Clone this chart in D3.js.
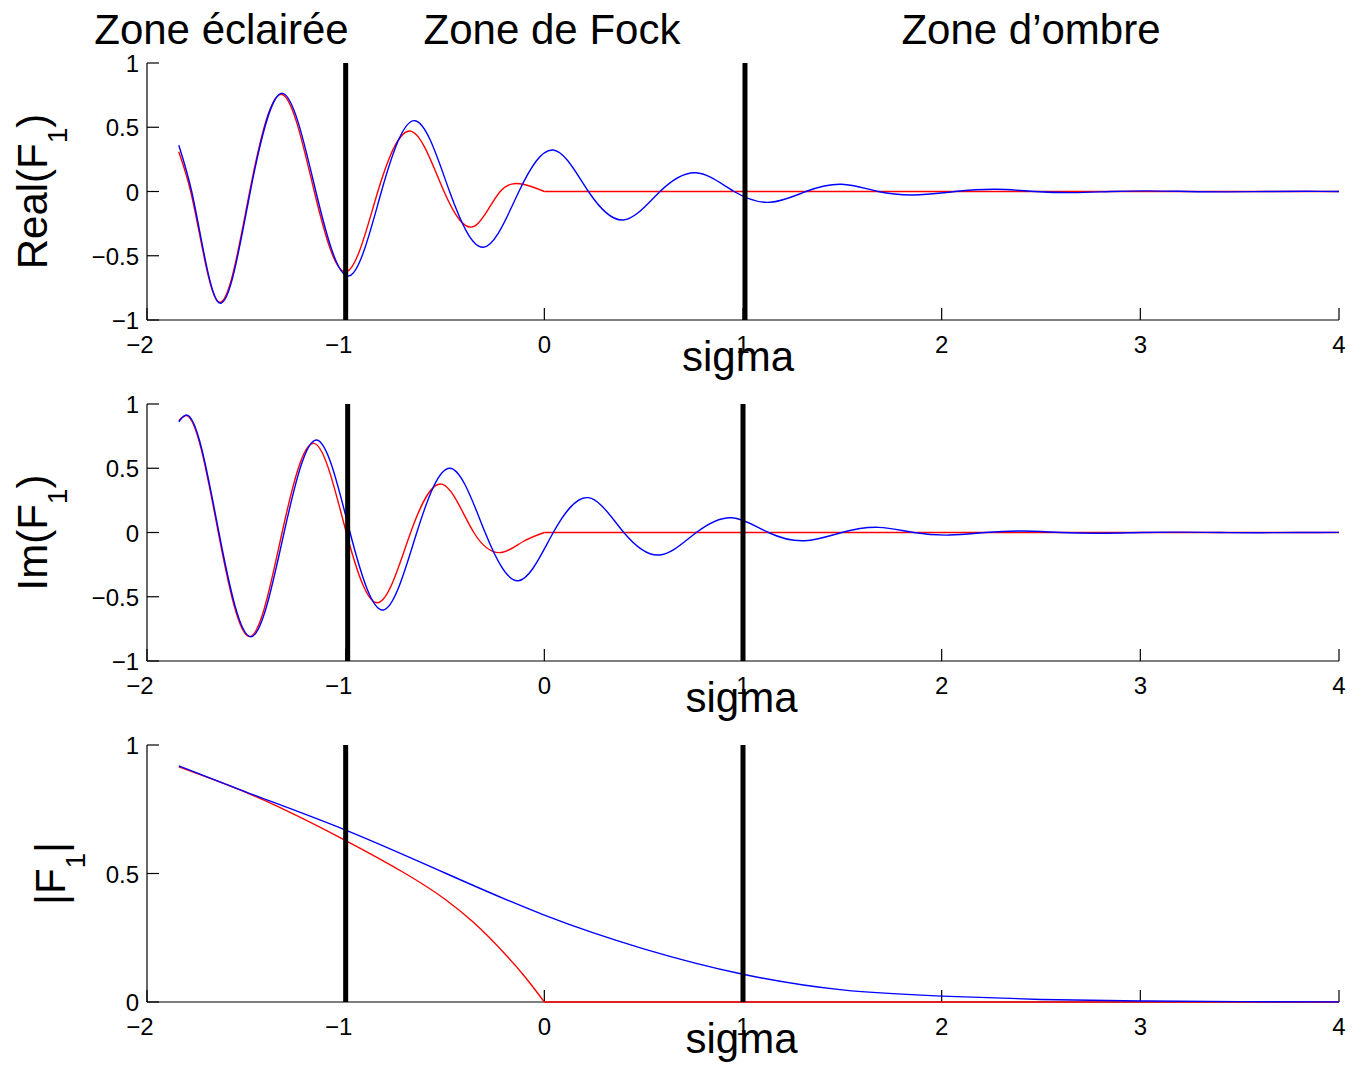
<!DOCTYPE html>
<html><head><meta charset="utf-8">
<script src="https://cdn.jsdelivr.net/npm/d3@7"></script>
<style>
body{margin:0;background:#fff}
svg{display:block}
text{font-family:"Liberation Sans",Arial,Helvetica,sans-serif;fill:#000}
</style>
</head><body>
<svg id="c" width="1363" height="1066"></svg>
<script>
// ---------- data ----------
const xTicks = [-2, -1, 0, 1, 2, 3, 4];
const yTicksSigned = [-1, -0.5, 0, 0.5, 1];
const yTicksAbs = [0, 0.5, 1];
const zoneTitles = ["Zone éclairée", "Zone de Fock", "Zone d’ombre"];
const xLabel = "sigma";

// zone boundaries (sigma) as drawn in each panel
const boundariesReal = [-1, 1.01];
const boundariesIm = [-0.99, 1.0];
const boundariesAbs = [-1, 1];

// Real(F1)
const realBlue = [[-1.84,0.36],[-1.775,0],[-1.644,-0.857],[-1.48,0],[-1.317,0.764],[-1.15,0],[-0.982,-0.657],[-0.82,0],[-0.651,0.551],[-0.477,0],[-0.307,-0.434],[-0.128,0],[0.045,0.323],[0.222,0],[0.397,-0.222],[0.582,0],[0.763,0.146],[0.955,0],[1.136,-0.084],[1.317,0],[1.497,0.056],[1.68,0],[1.857,-0.027],[2.067,0],[2.277,0.017],[2.47,0],[2.66,-0.009],[2.85,0],[3.04,0.005],[3.24,0],[3.44,-0.003],[3.64,0],[3.84,0.0015],[4.0,0]];
const realRed = [[-1.84,0.31],[-1.78,0],[-1.647,-0.85],[-1.483,0],[-1.32,0.755],[-1.158,0],[-0.995,-0.624],[-0.838,0],[-0.668,0.468],[-0.505,0],[-0.349,-0.268],[-0.222,0],[-0.107,0.056],[0,0]];
const realRedFlat = [[0,0],[4,0]];

// Im(F1)
const imBlue = [[-1.84,0.862],[-1.80,0.914],[-1.638,0],[-1.477,-0.811],[-1.31,0],[-1.146,0.72],[-0.978,0],[-0.81,-0.603],[-0.642,0],[-0.475,0.5],[-0.298,0],[-0.131,-0.375],[0.045,0],[0.221,0.271],[0.4,0],[0.579,-0.175],[0.765,0],[0.943,0.115],[1.128,0],[1.312,-0.064],[1.497,0],[1.681,0.04],[1.86,0],[2.04,-0.02],[2.22,0],[2.40,0.012],[2.6,0],[2.8,-0.006],[3.0,0],[3.2,0.003],[3.4,0],[3.6,-0.0015],[3.8,0],[4.0,0.0007]];
const imRed = [[-1.84,0.87],[-1.80,0.91],[-1.641,0],[-1.482,-0.81],[-1.32,0],[-1.159,0.694],[-0.997,0],[-0.835,-0.546],[-0.673,0],[-0.512,0.375],[-0.355,0],[-0.21,-0.154],[-0.106,-0.07],[0,0]];
const imRedFlat = [[0,0],[4,0]];

// |F1|
const absBlue = [[-1.84,0.919],[-1.5,0.817],[-1.0,0.669],[-0.5,0.502],[0,0.338],[0.5,0.207],[1.0,0.108],[1.5,0.047],[2.0,0.023],[2.5,0.01],[3.0,0.004],[3.5,0.0015],[4.0,0.0005]];
const absRed = [[-1.84,0.915],[-1.5,0.815],[-1.0,0.628],[-0.7,0.50],[-0.5,0.40],[-0.357,0.31],[-0.19,0.18],[-0.1,0.10],[0,0]];
const absRedFlat = [[0,0],[4,0]];

// ---------- natural cubic spline as a function of x (d3 curve) ----------
function NaturalX(context){ this._context = context; }
NaturalX.prototype = {
  areaStart(){ this._line = 0; },
  areaEnd(){ this._line = NaN; },
  lineStart(){ this._x = []; this._y = []; },
  point(x, y){ this._x.push(+x); this._y.push(+y); },
  lineEnd(){
    const X = this._x, Y = this._y, n = X.length, ctx = this._context;
    if (!n) return;
    ctx.moveTo(X[0], Y[0]);
    if (n === 1) return;
    if (n === 2) { ctx.lineTo(X[1], Y[1]); return; }
    const h = [];
    for (let i = 0; i < n - 1; i++) h[i] = X[i + 1] - X[i];
    const m = n - 2, a = [], b = [], c = [], d = [];
    for (let k = 0; k < m; k++) {
      const i = k + 1;
      a[k] = h[i - 1]; b[k] = 2 * (h[i - 1] + h[i]); c[k] = h[i];
      d[k] = 6 * ((Y[i + 1] - Y[i]) / h[i] - (Y[i] - Y[i - 1]) / h[i - 1]);
    }
    for (let k = 1; k < m; k++) {
      const w = a[k] / b[k - 1];
      b[k] -= w * c[k - 1]; d[k] -= w * d[k - 1];
    }
    const sol = new Array(m);
    sol[m - 1] = d[m - 1] / b[m - 1];
    for (let k = m - 2; k >= 0; k--) sol[k] = (d[k] - c[k] * sol[k + 1]) / b[k];
    const M = [0].concat(sol, [0]);
    for (let i = 0; i < n - 1; i++) {
      const s = (Y[i + 1] - Y[i]) / h[i];
      const d0 = s - h[i] * (2 * M[i] + M[i + 1]) / 6;
      const d1 = s + h[i] * (M[i] + 2 * M[i + 1]) / 6;
      ctx.bezierCurveTo(X[i] + h[i] / 3, Y[i] + d0 * h[i] / 3,
                        X[i + 1] - h[i] / 3, Y[i + 1] - d1 * h[i] / 3,
                        X[i + 1], Y[i + 1]);
    }
  }
};
const curveNaturalX = ctx => new NaturalX(ctx);

// ---------- layout ----------
const svg = d3.select("#c");
const FONT_BIG = 42, FONT_TICK = 24;
const x = d3.scaleLinear().domain([-2, 4]).range([147, 1339]);

const panels = [
  {top: 63, bottom: 320, domain: [-1, 1], ticks: yTicksSigned, label: ["Real(F", "1", ")"], labelX: 47,
   bounds: boundariesReal, smooth: [realRed, realBlue], flat: [realRedFlat]},
  {top: 404, bottom: 661, domain: [-1, 1], ticks: yTicksSigned, label: ["Im(F", "1", ")"], labelX: 47,
   bounds: boundariesIm, smooth: [imRed, imBlue], flat: [imRedFlat]},
  {top: 745, bottom: 1002, domain: [0, 1], ticks: yTicksAbs, label: ["|F", "1", "|"], labelX: 65,
   bounds: boundariesAbs, smooth: [absRed, absBlue], flat: [absRedFlat]}
];
const colors = ["#ff0000", "#0000ff"];

function fmt(v){ return String(Math.abs(v)); }

panels.forEach((p, pi) => {
  const y = d3.scaleLinear().domain(p.domain).range([p.bottom, p.top]);
  const g = svg.append("g");

  // axes
  g.append("line").attr("x1", x(-2)).attr("x2", x(-2)).attr("y1", p.top).attr("y2", p.bottom)
    .attr("stroke", "#000").attr("stroke-width", 1.2);
  g.append("line").attr("x1", x(-2)).attr("x2", x(4)).attr("y1", p.bottom).attr("y2", p.bottom)
    .attr("stroke", "#000").attr("stroke-width", 1.2);

  // y ticks
  p.ticks.forEach(t => {
    g.append("line").attr("x1", x(-2)).attr("x2", x(-2) + 12).attr("y1", y(t)).attr("y2", y(t))
      .attr("stroke", "#000").attr("stroke-width", 1.2);
    g.append("text").attr("x", 139).attr("y", y(t) + 9).attr("text-anchor", "end")
      .attr("font-size", FONT_TICK).text((t < 0 ? "\u2212" : "") + fmt(t));
  });
  // x ticks
  xTicks.forEach(t => {
    g.append("line").attr("x1", x(t)).attr("x2", x(t)).attr("y1", p.bottom).attr("y2", p.bottom - 12)
      .attr("stroke", "#000").attr("stroke-width", 1.2);
    const tx = g.append("text").attr("x", x(t)).attr("y", p.bottom + 33).attr("text-anchor", "middle")
      .attr("font-size", FONT_TICK).text(fmt(t));
    if (t < 0) {
      const w = tx.node().getComputedTextLength();
      g.append("text").attr("x", x(t) - w / 2).attr("y", p.bottom + 33).attr("text-anchor", "end")
        .attr("font-size", FONT_TICK).text("\u2212");
    }
  });

  // curves
  const lineSmooth = d3.line().x(d => x(d[0])).y(d => y(d[1])).curve(curveNaturalX);
  const lineFlat = d3.line().x(d => x(d[0])).y(d => y(d[1]));
  p.flat.forEach(s => {
    g.append("path").attr("d", lineFlat(s)).attr("fill", "none").attr("stroke", colors[0]).attr("stroke-width", 1.4);
  });
  p.smooth.forEach((s, i) => {
    g.append("path").attr("d", lineSmooth(s)).attr("fill", "none").attr("stroke", colors[i]).attr("stroke-width", 1.4);
  });

  // zone boundaries
  p.bounds.forEach(b => {
    g.append("line").attr("x1", x(b)).attr("x2", x(b)).attr("y1", p.top).attr("y2", p.bottom)
      .attr("stroke", "#000").attr("stroke-width", 5);
  });

  // x label
  g.append("text").attr("x", pi === 0 ? 738 : 741.5).attr("y", p.bottom + 51).attr("text-anchor", "middle")
    .attr("font-size", FONT_BIG).text(xLabel);

  // y label
  const cy = (p.top + p.bottom) / 2;
  const yl = g.append("text").attr("transform", `translate(${p.labelX},${cy}) rotate(-90)`)
    .attr("text-anchor", "middle").attr("font-size", FONT_BIG);
  yl.append("tspan").text(p.label[0]);
  yl.append("tspan").attr("font-size", 28).attr("dy", 20).text(p.label[1]);
  yl.append("tspan").attr("dy", -20).text(p.label[2]);
});

// zone titles
const titleX = [221.5, 552, 1031];
zoneTitles.forEach((t, i) => {
  svg.append("text").attr("x", titleX[i]).attr("y", 44).attr("text-anchor", "middle")
    .attr("font-size", FONT_BIG).text(t);
});
</script>
</body></html>
